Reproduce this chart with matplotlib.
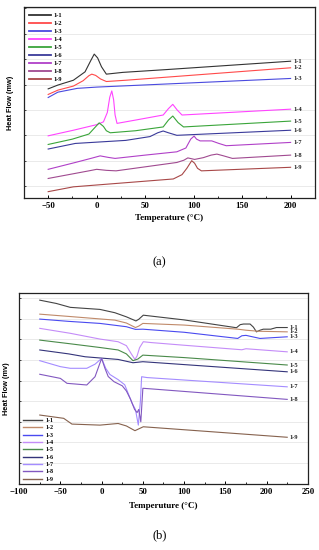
import matplotlib
matplotlib.use('Agg')
import matplotlib.pyplot as plt
from matplotlib.ticker import MultipleLocator

names = ['1-1', '1-2', '1-3', '1-4', '1-5', '1-6', '1-7', '1-8', '1-9']

# ---- panel (a) data: temperature (C) and heat flow (arbitrary offset units)
a_T = {
    '1-1': [-50, -40, -24, -12, -6, -2.5, 1, 5, 10, 27, 72, 200],
    '1-2': [-50, -40, -24, -14, -8, -5, -1, 4, 10, 30, 200],
    '1-3': [-50, -40, -20, 0, 200],
    '1-4': [-50, -24, 0, 7, 11, 13.5, 15.6, 17.5, 19, 21, 40, 68.6, 74, 78.5, 83, 88, 200],
    '1-5': [-50, -25, -8, -2, 2.6, 7, 10, 14, 40, 68.6, 74, 78.5, 84, 89.6, 200],
    '1-6': [-50, -22, 30, 55, 63, 68.6, 74, 82.7, 200],
    '1-7': [-50, -22, -5, 3.6, 12, 19, 50, 82.7, 92, 97, 100.5, 103, 106.7, 112, 118.7, 126, 133.6, 200],
    '1-8': [-50, -22, -8, 0, 10, 20, 82.7, 90, 94, 101, 110, 118, 124, 130, 140, 200],
    '1-9': [-50, -24, 79, 88, 93, 98, 101, 104, 108, 200],
}
a_H = {
    '1-1': [3.83, 3.98, 4.17, 4.5, 4.95, 5.2, 5.05, 4.7, 4.41, 4.48, 4.59, 4.92],
    '1-2': [3.61, 3.78, 3.94, 4.15, 4.35, 4.41, 4.36, 4.22, 4.12, 4.17, 4.66],
    '1-3': [3.49, 3.7, 3.85, 3.9, 4.24],
    '1-4': [1.98, 2.2, 2.42, 2.53, 2.9, 3.5, 3.75, 3.4, 2.8, 2.47, 2.6, 2.8, 3.05, 3.22, 3.0, 2.8, 3.03],
    '1-5': [1.64, 1.85, 2.05, 2.3, 2.49, 2.35, 2.18, 2.1, 2.18, 2.33, 2.6, 2.76, 2.5, 2.33, 2.56],
    '1-6': [1.46, 1.68, 1.8, 1.95, 2.1, 2.17, 2.1, 2.0, 2.2],
    '1-7': [0.66, 0.93, 1.1, 1.19, 1.13, 1.09, 1.22, 1.35, 1.5, 1.85, 1.97, 1.85, 1.78, 1.78, 1.78, 1.68, 1.59, 1.72],
    '1-8': [0.3, 0.5, 0.6, 0.66, 0.62, 0.6, 0.93, 1.02, 1.11, 1.05, 1.12, 1.22, 1.26, 1.2, 1.09, 1.22],
    '1-9': [-0.22, -0.03, 0.28, 0.45, 0.7, 1.0, 0.9, 0.7, 0.6, 0.74],
}
a_colors = ['#333333', '#ff4a4a', '#4a4adf', '#ff44ff', '#3aa53a',
            '#3a3a9a', '#b040c8', '#a04a90', '#a84848']

# ---- panel (b) data
b_T = {
    '1-1': [-75, -55, -38, -2, 16, 30, 41.6, 45, 50.5, 100, 163.5, 168, 172, 180, 184, 187.7, 192, 196, 205, 212, 225],
    '1-2': [-75, -40, 16, 30, 41, 45, 50, 100, 165, 175, 190, 225],
    '1-3': [-75, -40, -2, 30, 41, 50, 100, 165, 170, 175, 192, 225],
    '1-4': [-75, -38, -2, 20, 30, 36, 40.4, 43, 46, 50.5, 60, 100, 170, 175, 225],
    '1-5': [-75, -40, -2, 20, 30, 38, 44, 50, 100, 225],
    '1-6': [-75, -40, -20, 20, 38, 50, 100, 225],
    '1-7': [-75, -50, -38, -18, -8, 0, 5, 10, 20, 28, 33, 37, 41, 44.5, 47, 48.5, 55, 225],
    '1-8': [-75, -50, -42, -18, -8, 0, 4, 8, 15, 25, 30, 35, 40, 43, 45, 47.5, 50, 60, 225],
    '1-9': [-75, -46, -36, -2, 20, 30, 40.4, 50.5, 225],
}
b_H = {
    '1-1': [7.91, 7.75, 7.56, 7.46, 7.3, 7.1, 6.9, 6.98, 7.18, 6.95, 6.57, 6.72, 6.75, 6.75, 6.6, 6.37, 6.45, 6.5, 6.5, 6.58, 6.58],
    '1-2': [7.23, 7.12, 6.94, 6.8, 6.58, 6.65, 6.78, 6.7, 6.5, 6.45, 6.4, 6.37],
    '1-3': [6.99, 6.88, 6.78, 6.62, 6.49, 6.5, 6.35, 6.05, 6.18, 6.2, 6.05, 6.13],
    '1-4': [6.54, 6.3, 6.02, 5.89, 5.7, 5.3, 5.03, 5.2, 5.6, 5.89, 5.85, 5.72, 5.5, 5.55, 5.4],
    '1-5': [5.97, 5.8, 5.61, 5.49, 5.3, 4.97, 5.05, 5.24, 5.12, 4.76],
    '1-6': [5.49, 5.3, 5.16, 5.03, 4.87, 4.92, 4.78, 4.43],
    '1-7': [4.97, 4.68, 4.6, 4.6, 4.8, 5.08, 4.6, 4.3, 4.05, 3.8, 3.3, 2.9, 2.6, 1.84, 3.0, 4.19, 4.15, 3.7],
    '1-8': [4.31, 4.11, 3.87, 3.79, 4.19, 5.08, 4.6, 4.2, 3.95, 3.75, 3.5, 3.1, 2.6, 2.45, 2.6, 2.0, 3.63, 3.6, 3.09],
    '1-9': [2.33, 2.17, 1.89, 1.84, 1.92, 1.8, 1.57, 1.76, 1.25],
}
b_colors = ['#444444', '#c08a6a', '#4a4af0', '#c48cf8', '#4a8a4a',
            '#34347a', '#a48cff', '#8258c0', '#86624e']

serif = 'Liberation Serif'
sans = 'Liberation Sans'

fig = plt.figure(figsize=(3.19, 5.5), dpi=100)


def style_axes(ax, xlim, ylim, nlines, xmajor, xticks):
    ax.set_xlim(*xlim)
    ax.set_ylim(*ylim)
    ax.set_xticks(xticks)
    ax.xaxis.set_minor_locator(MultipleLocator(xmajor / 2))
    ax.set_yticks(range(nlines))
    ax.set_yticklabels([])
    ax.grid(axis='y', color='#e2e2e2', lw=0.5)
    ax.set_axisbelow(True)
    ax.tick_params(axis='x', which='major', direction='in', length=2.5, width=0.7, pad=3,
                   labelsize=6.3)
    ax.tick_params(axis='x', which='minor', direction='in', length=1.5, width=0.6)
    ax.tick_params(axis='y', direction='in', length=1.5, width=0.5)
    for lab in ax.get_xticklabels():
        lab.set_fontfamily(serif)
        lab.set_fontweight('bold')
    for s in ax.spines.values():
        s.set_linewidth(0.9)
        s.set_color('#222222')


# panel (a)
ax1 = fig.add_axes([0.075, 0.64, 0.912, 0.347])
for n, c in zip(names, a_colors):
    ax1.plot(a_T[n], a_H[n], color=c, lw=0.8, label=n)
    ax1.text(203, a_H[n][-1], n, fontsize=4.6, fontfamily=serif, fontweight='bold',
             va='center', ha='left', color='#222222')
style_axes(ax1, (-75, 225), (-0.47, 7.05), 8, 50, [-50, 0, 50, 100, 150, 200])
leg = ax1.legend(loc='upper left', frameon=False, prop={'family': serif, 'size': 4.6, 'weight': 'bold'},
                 handlelength=3.4, handletextpad=0.4, labelspacing=0.4,
                 bbox_to_anchor=(0.01, 0.985), borderaxespad=0)
for h in leg.get_lines():
    h.set_linewidth(1.3)
ax1.set_xlabel('Temperature (\u00b0C)', fontfamily=serif, fontweight='bold', fontsize=6.5, labelpad=3)
ax1.set_ylabel('Heat Flow (mw)', fontfamily=sans, fontweight='bold', fontsize=5.3, labelpad=4)
fig.text(0.5, 1 - 262 / 550, '(a)', ha='center', va='center', fontsize=9, fontfamily=serif)

# panel (b)
ax2 = fig.add_axes([0.06, 0.12, 0.905, 0.347])
for n, c in zip(names, b_colors):
    ax2.plot(b_T[n], b_H[n], color=c, lw=0.8, label=n)
    ax2.text(228, b_H[n][-1], n, fontsize=4.6, fontfamily=serif, fontweight='bold',
             va='center', ha='left', color='#222222')
style_axes(ax2, (-100, 250), (-1.02, 8.25), 9, 50, [-100, -50, 0, 50, 100, 150, 200, 250])
leg2 = ax2.legend(loc='lower left', frameon=False, prop={'family': serif, 'size': 4.3, 'weight': 'bold'},
                  handlelength=3.2, handletextpad=0.6, labelspacing=0.36,
                  bbox_to_anchor=(0.005, 0.0), borderaxespad=0)
for h in leg2.get_lines():
    h.set_linewidth(1.0)
ax2.set_xlabel('Temperuture (\u00b0C)', fontfamily=serif, fontweight='bold', fontsize=6.5, labelpad=4)
ax2.set_ylabel('Heat Flow (mv)', fontfamily=sans, fontweight='bold', fontsize=5.3, labelpad=3)
fig.text(0.5, 1 - 535 / 550, '(b)', ha='center', va='center', fontsize=9, fontfamily=serif)

fig.savefig('out.png', dpi=100)
